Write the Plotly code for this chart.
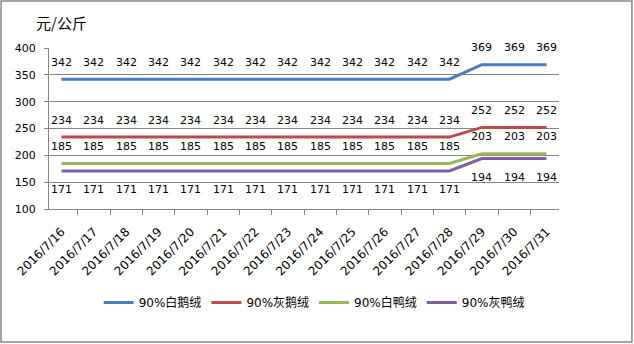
import plotly.graph_objects as go

dates = ["2016/7/16", "2016/7/17", "2016/7/18", "2016/7/19", "2016/7/20",
         "2016/7/21", "2016/7/22", "2016/7/23", "2016/7/24", "2016/7/25",
         "2016/7/26", "2016/7/27", "2016/7/28", "2016/7/29", "2016/7/30",
         "2016/7/31"]

white_goose = [342] * 13 + [369, 369, 369]
grey_goose = [234] * 13 + [252, 252, 252]
white_duck = [185] * 13 + [203, 203, 203]
grey_duck = [171] * 13 + [194, 194, 194]

series = [
    ("90%白鹅绒", white_goose, "#4A7EBB", 1),
    ("90%灰鹅绒", grey_goose, "#BE4B48", 1),
    ("90%白鸭绒", white_duck, "#98B954", 1),
    ("90%灰鸭绒", grey_duck, "#7D60A0", -1),
]

y_ticks = [100, 150, 200, 250, 300, 350, 400]

num_font = "DejaVu Sans, Noto Sans CJK SC"
cjk_font = "Noto Sans CJK SC, DejaVu Sans"

fig = go.Figure()
annotations = []
for name, vals, color, side in series:
    fig.add_trace(go.Scatter(
        x=dates, y=vals, name=name, mode="lines",
        line=dict(color=color, width=3),
        hoverinfo="skip",
    ))
    # value labels: above the line, except the lowest series which sits below
    for d, v in zip(dates, vals):
        annotations.append(dict(
            x=d, y=v, xref="x", yref="y", text=str(v), showarrow=False,
            yshift=17 if side > 0 else -19,
            font=dict(family=num_font, size=11, color="#000000"),
        ))

# unit caption above the value axis
annotations.append(dict(
    x=-0.029, y=1.16, xref="paper", yref="paper", text="元/公斤",
    showarrow=False, xanchor="left", yanchor="middle",
    font=dict(family=cjk_font, size=15, color="#000000"),
))

fig.update_layout(
    width=634, height=344,
    margin=dict(l=49, r=75, t=48, b=135),
    paper_bgcolor="white", plot_bgcolor="white",
    showlegend=True,
    legend=dict(
        orientation="h", x=0.52, xanchor="center", y=-0.58, yanchor="middle",
        font=dict(family=num_font, size=12, color="#000000"),
        itemwidth=30, tracegroupgap=0,
    ),
    annotations=annotations,
    shapes=[dict(
        type="rect", xref="paper", yref="paper",
        x0=-0.094, x1=1.143, y0=-0.826, y1=1.292,
        line=dict(color="#868686", width=1.5), fillcolor="rgba(0,0,0,0)",
    )],
)

fig.update_xaxes(
    type="category", categoryorder="array", categoryarray=dates,
    tickangle=-45, tickson="boundaries", ticks="outside", ticklen=5,
    ticklabelstandoff=10,
    tickcolor="#868686", showline=True, linecolor="#868686", linewidth=1,
    showgrid=False, tickfont=dict(family=num_font, size=12, color="#000000"),
)
fig.update_yaxes(
    range=[100, 400], tickvals=y_ticks, ticks="outside", ticklen=4,
    ticklabelstandoff=6,
    tickcolor="#868686", showline=True, linecolor="#868686", linewidth=1,
    showgrid=True, gridcolor="#868686", gridwidth=1, zeroline=False,
    tickfont=dict(family=num_font, size=11, color="#000000"),
)

fig.write_html("out.html")
